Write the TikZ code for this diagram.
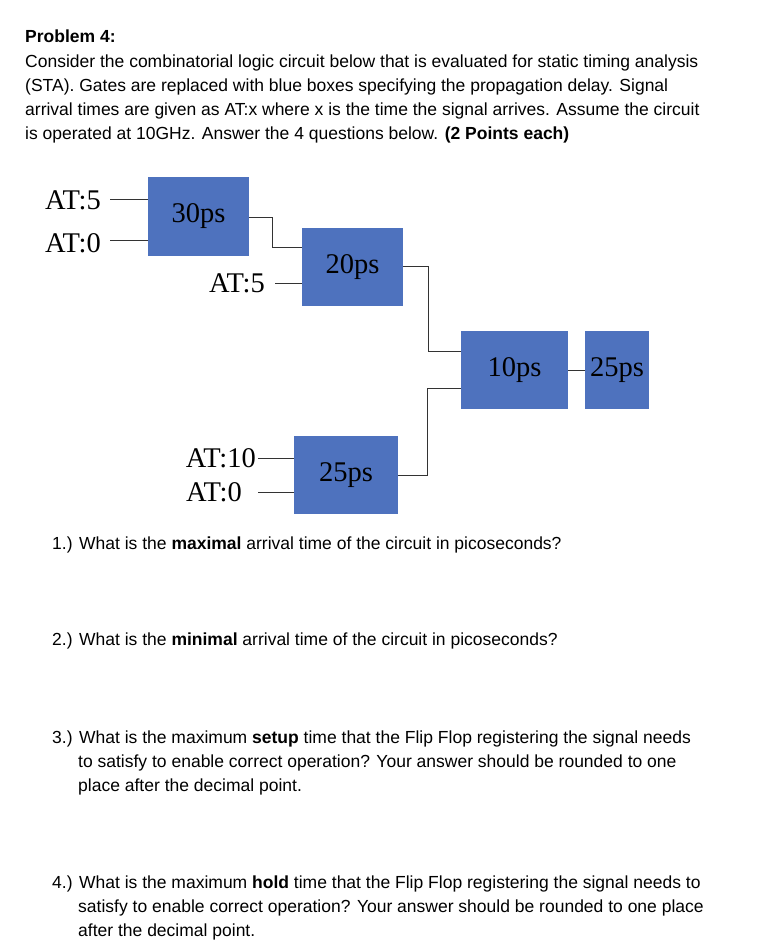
\documentclass[tikz,border=0pt]{standalone}
\usepackage{fontspec}
\setmainfont{Liberation Sans}
\newfontfamily\tms{Liberation Serif}
\definecolor{gate}{RGB}{78,114,190}
\begin{document}
\begin{tikzpicture}[x=1pt,y=-1pt,
  txt/.style={anchor=base west,inner sep=0pt,font=\fontsize{17.5}{20}\selectfont},
  gatebox/.style={fill=gate,inner sep=0pt,font=\tms\fontsize{28.5}{30}\selectfont},
  lab/.style={inner sep=0pt,font=\tms\fontsize{28.5}{30}\selectfont},
  wire/.style={line width=0.9pt,draw=black!80}]
\useasboundingbox (0,0) rectangle (761,949);
\node[txt,font=\bfseries\fontsize{17.5}{20}\selectfont] (title) at (25,43) {Problem 4:};
\node[txt] (l1) at (25,68) {Consider the combinatorial logic circuit below that is evaluated for static timing analysis};
\node[txt] (l2) at (25,92) {(STA). Gates are replaced with blue boxes specifying the propagation delay. Signal};
\node[txt] (l3) at (25,116) {arrival times are given as AT:x where x is the time the signal arrives. Assume the circuit};
\node[txt] (l4) at (25,140) {is operated at 10GHz. Answer the 4 questions below. \textbf{(2 Points each)}};

% gates
\node[gatebox,minimum width=101,minimum height=79] (g1) at (198.5,216.5) {30ps};
\node[gatebox,minimum width=101,minimum height=78] (g2) at (352.5,267) {20ps};
\node[gatebox,minimum width=107,minimum height=78] (g3) at (514.5,370) {10ps};
\node[gatebox,minimum width=64,minimum height=78] (g4) at (617,370) {25ps};
\node[gatebox,minimum width=104,minimum height=78] (g5) at (346,475) {25ps};

% labels
\node[lab,anchor=east] (a1) at (101,200) {AT:5};
\node[lab,anchor=east] (a2) at (101,243) {AT:0};
\node[lab,anchor=east] (a3) at (265,283) {AT:5};
\node[lab,anchor=east] (a4) at (256,458) {AT:10};
\node[lab,anchor=east] (a5) at (242,492) {AT:0};

\draw[wire] (110,199) -- (g1.west |- 0,199);
\draw[wire] (110,240) -- (g1.west |- 0,240);
\draw[wire] (g1.east |- 0,217) -- (272,217) -- (272,247) -- (g2.west |- 0,247);
\draw[wire] (275,283) -- (g2.west |- 0,283);
\draw[wire] (g2.east |- 0,266) -- (428,266) -- (428,351) -- (g3.west |- 0,351);
\draw[wire] (g5.east |- 0,475) -- (427,475) -- (427,388) -- (g3.west |- 0,388);
\draw[wire] (g3.east) -- (g4.west);
\draw[wire] (258,458) -- (g5.west |- 0,458);
\draw[wire] (258,492) -- (g5.west |- 0,492);

% questions
\node[txt] (q1) at (52,549) {1.) What is the \textbf{maximal} arrival time of the circuit in picoseconds?};
\node[txt] (q2) at (52,645) {2.) What is the \textbf{minimal} arrival time of the circuit in picoseconds?};
\node[txt] (q3a) at (52,743) {3.) What is the maximum \textbf{setup} time that the Flip Flop registering the signal needs};
\node[txt] (q3b) at (78,767) {to satisfy to enable correct operation? Your answer should be rounded to one};
\node[txt] (q3c) at (78,791) {place after the decimal point.};
\node[txt] (q4a) at (52,888) {4.) What is the maximum \textbf{hold} time that the Flip Flop registering the signal needs to};
\node[txt] (q4b) at (78,912) {satisfy to enable correct operation? Your answer should be rounded to one place};
\node[txt] (q4c) at (78,936) {after the decimal point.};
\end{tikzpicture}
\end{document}
